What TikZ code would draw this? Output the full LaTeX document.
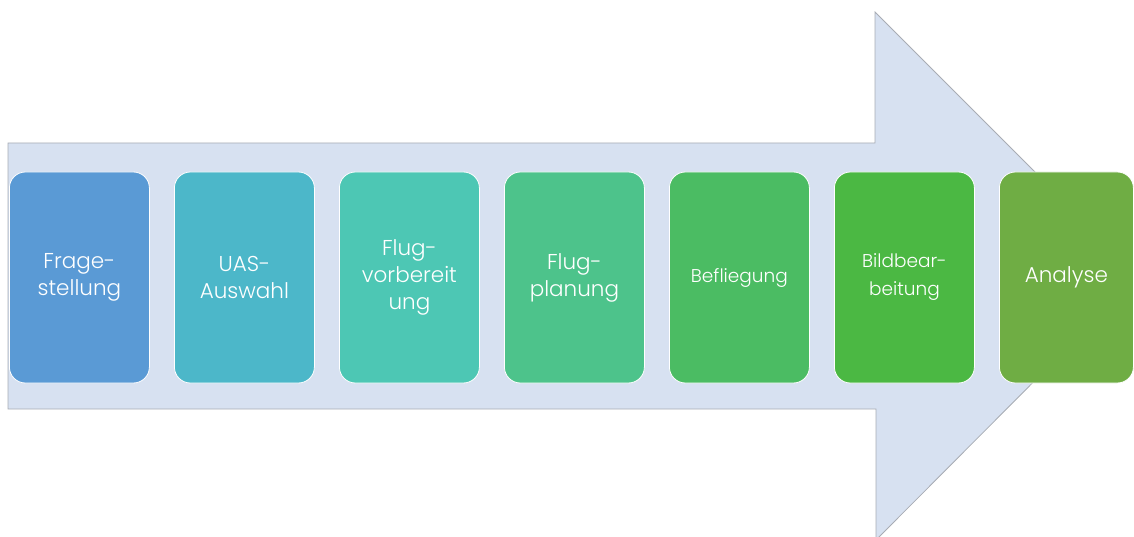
\documentclass[tikz,border=0pt]{standalone}
\usepackage{fontspec}
\setmainfont{Poppins Light}
\definecolor{arrowfill}{HTML}{D7E1F1}
\definecolor{arrowline}{HTML}{A8ACB4}
\definecolor{cA}{HTML}{5A9AD5}
\definecolor{cB}{HTML}{4CB7C9}
\definecolor{cC}{HTML}{4DC7B4}
\definecolor{cD}{HTML}{4DC38B}
\definecolor{cE}{HTML}{4BBC63}
\definecolor{cF}{HTML}{4BB843}
\definecolor{cG}{HTML}{6FAD44}
\tikzset{
  stepbox/.style={draw=white, line width=0.8pt, rounded corners=16pt, minimum width=140pt, minimum height=211pt,
    inner sep=0pt, text=white, align=center, font=\fontsize{21.5}{27}\selectfont, anchor=west},
  smalltxt/.style={font=\fontsize{18.5}{28}\selectfont},
  bigarrow/.style={fill=arrowfill, draw=arrowline, line width=0.8pt}
}
\begin{document}
\begin{tikzpicture}[x=1pt,y=-1pt]
\useasboundingbox (0,0) rectangle (1134,537);
\begin{scope}
\clip (0,0) rectangle (1134,537);
\draw[bigarrow] (8,143) -- (875,143) -- (875,12) -- (1139,276) -- (876,540) -- (876,409) -- (8,409) -- cycle;
\end{scope}
\node[stepbox, fill=cA] (s1) at (9,277.5) {Frage-\\stellung};
\node[stepbox, fill=cB] (s2) at (174,277.5) {UAS-\\Auswahl};
\node[stepbox, fill=cC] (s3) at (339,277.5) {Flug-\\vorbereit\\ung};
\node[stepbox, fill=cD] (s4) at (504,277.5) {Flug-\\planung};
\node[stepbox, fill=cE, smalltxt] (s5) at (669,277.5) {Befliegung};
\node[stepbox, fill=cF, smalltxt] (s6) at (834,277.5) {Bildbear-\\beitung};
\node[stepbox, fill=cG, minimum width=134pt] (s7) at (999,277.5) {Analyse};
\end{tikzpicture}
\end{document}
